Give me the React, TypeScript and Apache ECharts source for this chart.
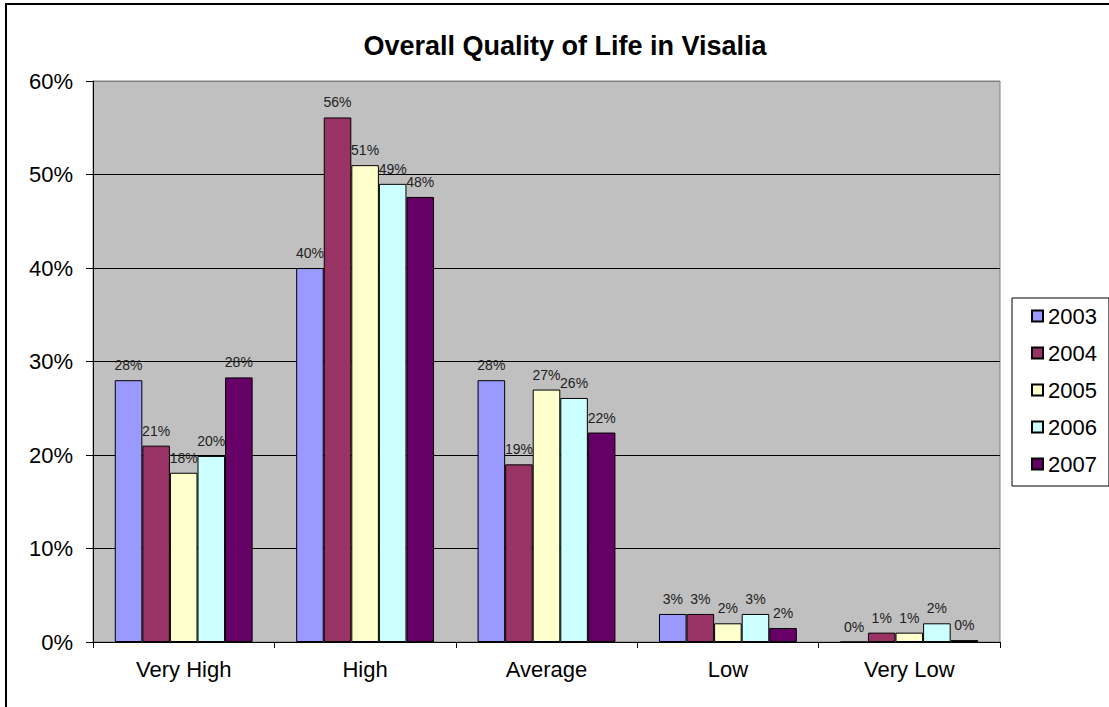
import React, { useEffect, useRef } from "react";
import * as echarts from "echarts";

const categories = ["Very High", "High", "Average", "Low", "Very Low"];
const years = ["2003", "2004", "2005", "2006", "2007"];
const v2003 = [0.28, 0.40, 0.28, 0.03, 0.0];
const v2004 = [0.21, 0.561, 0.19, 0.03, 0.01];
const v2005 = [0.181, 0.51, 0.27, 0.02, 0.01];
const v2006 = [0.199, 0.49, 0.261, 0.03, 0.02];
const v2007 = [0.283, 0.476, 0.224, 0.015, 0.002];
const seriesValues = [v2003, v2004, v2005, v2006, v2007];
const colors = ["#9999FF", "#993366", "#FFFFCC", "#CCFFFF", "#660066"];
const yTicks = [0, 0.1, 0.2, 0.3, 0.4, 0.5, 0.6];

const FONT = "Arial, 'Liberation Sans', sans-serif";

export default function App() {
  const ref = useRef<HTMLDivElement>(null);
  useEffect(() => {
    if (!ref.current) return;
    const chart = echarts.init(ref.current, undefined, { renderer: "svg" });
    chart.setOption({
      animation: false,
      backgroundColor: "#ffffff",
      textStyle: { fontFamily: FONT },
      graphic: [
        {
          type: "rect",
          shape: { x: 6, y: 4, width: 1200, height: 800 },
          style: { fill: "none", stroke: "#000", lineWidth: 2 },
          z: 100,
        },
        {
          type: "text",
          x: 565,
          y: 46,
          style: {
            text: "Overall Quality of Life in Visalia",
            font: `bold 27px ${FONT}`,
            fill: "#000",
            textAlign: "center",
            textVerticalAlign: "middle",
          },
        },
      ],
      legend: {
        orient: "vertical",
        left: 1012,
        top: 298,
        padding: [7, 12, 11, 19],
        itemWidth: 11,
        itemHeight: 11,
        itemGap: 15,
        borderColor: "#000",
        borderWidth: 1,
        backgroundColor: "#fff",
        icon: "rect",
        data: years,
        textStyle: { fontSize: 22, color: "#000", lineHeight: 21, fontFamily: FONT },
      },
      grid: {
        left: 93,
        top: 81,
        right: 109,
        bottom: 65,
        show: true,
        backgroundColor: "#C0C0C0",
        borderColor: "#808080",
        borderWidth: 1,
      },
      xAxis: {
        type: "category",
        data: categories,
        axisLine: { show: true, lineStyle: { color: "#000", width: 1 } },
        axisTick: { show: true, length: 6, lineStyle: { color: "#000" } },
        axisLabel: { fontSize: 22, color: "#000", margin: 16, fontFamily: FONT },
      },
      yAxis: {
        type: "value",
        min: 0,
        max: 0.6,
        interval: 0.1,
        axisLine: { show: true, lineStyle: { color: "#000", width: 1 } },
        axisTick: { show: true, length: 7, lineStyle: { color: "#000" } },
        axisLabel: {
          fontSize: 22,
          color: "#000",
          margin: 20,
          fontFamily: FONT,
          formatter: (v: number) => Math.round(v * 100) + "%",
        },
        splitLine: {
          show: true,
          lineStyle: {
            color: yTicks.map((t) => (t === 0.6 ? "#808080" : "#000")),
            width: 1,
          },
        },
      },
      series: years.map((y, i) => ({
        name: y,
        type: "bar",
        data: seriesValues[i],
        barGap: "0%",
        barCategoryGap: "24%",
        itemStyle: { color: colors[i], borderColor: "#000", borderWidth: 1 },
        label: {
          show: true,
          position: "top",
          distance: 8,
          fontSize: 14,
          color: "#222",
          fontFamily: FONT,
          formatter: (p: any) => Math.round(p.value * 100) + "%",
        },
      })),
    });
    return () => chart.dispose();
  }, []);
  return (
    <div
      ref={ref}
      style={{ position: "fixed", left: 0, top: 0, width: 1109, height: 707 }}
    />
  );
}
